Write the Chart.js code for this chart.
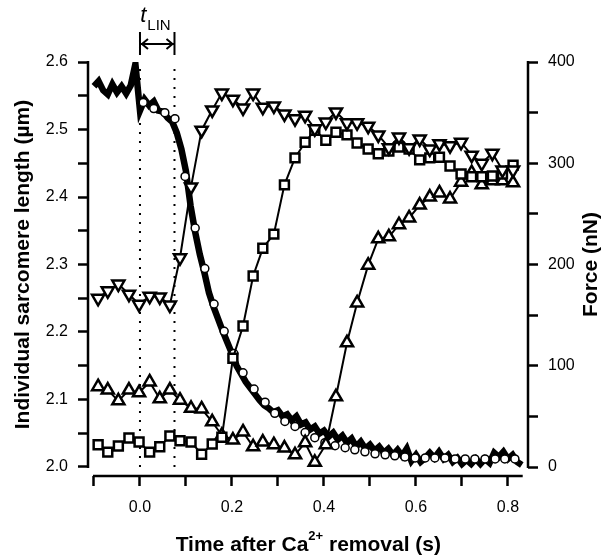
<!DOCTYPE html>
<html>
<head>
<meta charset="utf-8">
<script src="https://cdn.jsdelivr.net/npm/chart.js@4.4.1/dist/chart.umd.min.js"></script>
<style>
    html, body { margin: 0; padding: 0; background: #fff; }
    canvas { display: block; }
</style>
</head>
<body>
<canvas id="chart1" width="605" height="555"></canvas>
<script>
// Frame times (s) shared by the three sarcomeres
const frameTime = [-0.091, -0.070, -0.047, -0.024, -0.002, 0.021, 0.043, 0.065, 0.087, 0.111,
    0.134, 0.157, 0.178, 0.202, 0.224, 0.246, 0.267, 0.291, 0.314, 0.337,
    0.359, 0.380, 0.404, 0.426, 0.450, 0.472, 0.496, 0.518, 0.541, 0.563,
    0.585, 0.608, 0.630, 0.651, 0.674, 0.698, 0.721, 0.743, 0.766, 0.788, 0.811];

// Sarcomere length (µm)
const sarcoDown = [2.250, 2.261, 2.271, 2.256, 2.241, 2.253, 2.252, 2.240, 2.310, 2.415,
    2.499, 2.529, 2.554, 2.545, 2.532, 2.554, 2.533, 2.535, 2.523, 2.516,
    2.521, 2.501, 2.511, 2.526, 2.510, 2.510, 2.505, 2.492, 2.473, 2.489,
    2.473, 2.486, 2.471, 2.479, 2.476, 2.481, 2.462, 2.450, 2.465, 2.440, 2.440];
const sarcoSquare = [2.033, 2.022, 2.031, 2.043, 2.037, 2.022, 2.030, 2.046, 2.039, 2.037,
    2.019, 2.034, 2.044, 2.161, 2.209, 2.283, 2.324, 2.345, 2.418, 2.458,
    2.481, 2.499, 2.484, 2.496, 2.492, 2.480, 2.471, 2.464, 2.468, 2.474,
    2.471, 2.455, 2.458, 2.459, 2.446, 2.434, 2.430, 2.430, 2.431, 2.434, 2.447];
const sarcoUp = [2.119, 2.114, 2.098, 2.114, 2.110, 2.126, 2.101, 2.114, 2.099, 2.087,
    2.086, 2.067, 2.047, 2.040, 2.052, 2.030, 2.037, 2.033, 2.028, 2.018,
    2.036, 2.007, 2.033, 2.104, 2.184, 2.243, 2.299, 2.338, 2.341, 2.359,
    2.369, 2.388, 2.400, 2.406, 2.397, 2.422, 2.436, 2.418, 2.424, 2.424, 2.421];

// Open circles (force, nN)
const circleTime = [0.007, 0.030, 0.054, 0.076, 0.098, 0.120, 0.141, 0.161, 0.183, 0.204,
    0.224, 0.248, 0.272, 0.293, 0.315, 0.337, 0.359, 0.380, 0.402, 0.424,
    0.446, 0.467, 0.489, 0.511, 0.533, 0.554, 0.576, 0.598, 0.620, 0.641,
    0.663, 0.685, 0.707, 0.728, 0.750, 0.772, 0.793, 0.815];
const circleForce = [360, 354, 350, 344, 287, 236, 196, 161, 134, 112,
    93, 77, 64, 53, 45, 40, 34, 29, 24, 21,
    19, 17, 15, 13, 12, 11, 10, 9, 9, 9,
    9, 8, 8, 8, 8, 8, 8, 8];

// Force trace (nN)
const forceTime = [-0.10, -0.09, -0.08, -0.07, -0.06, -0.05, -0.04, -0.03, -0.02, -0.01,
    0.00, 0.01, 0.02, 0.03, 0.04, 0.05, 0.06, 0.07, 0.08, 0.09,
    0.10, 0.11, 0.12, 0.13, 0.14, 0.15, 0.16, 0.17, 0.18, 0.19,
    0.20, 0.21, 0.22, 0.23, 0.24, 0.25, 0.26, 0.27, 0.28, 0.29,
    0.30, 0.31, 0.32, 0.33, 0.34, 0.35, 0.36, 0.37, 0.38, 0.39,
    0.40, 0.41, 0.42, 0.43, 0.44, 0.45, 0.46, 0.47, 0.48, 0.49,
    0.50, 0.51, 0.52, 0.53, 0.54, 0.55, 0.56, 0.57, 0.58, 0.59,
    0.60, 0.61, 0.62, 0.63, 0.64, 0.65, 0.66, 0.67, 0.68, 0.69,
    0.70, 0.71, 0.72, 0.73, 0.74, 0.75, 0.76, 0.77, 0.78, 0.79,
    0.80, 0.81, 0.82, 0.83];
const forceTrace = [376, 381, 372, 368, 378, 370, 376, 369, 377, 398,
    352, 363, 357, 361, 352, 351, 345, 341, 330, 314,
    292, 258, 232, 210, 192, 172, 158, 146, 134, 123,
    112, 100, 92, 84, 78, 72, 66, 61, 58, 54,
    56, 50, 52, 46, 50, 42, 44, 37, 40, 33,
    36, 30, 34, 27, 31, 24, 28, 20, 25, 18,
    22, 16, 20, 14, 18, 12, 17, 11, 18, 6,
    12, 5, 9, 14, 9, 15, 8, 12, 5, 9,
    3, 7, 3, 8, 3, 8, 4, 14, 10, 15,
    8, 12, 5, 2];

// Ticks
const xTickValues = [-0.1, 0, 0.1, 0.2, 0.3, 0.4, 0.5, 0.6, 0.7, 0.8];
const xTickLabels = ["", "0.0", "", "0.2", "", "0.4", "", "0.6", "", "0.8"];
const lenTickValues = [2.0, 2.05, 2.1, 2.15, 2.2, 2.25, 2.3, 2.35, 2.4, 2.45, 2.5, 2.55, 2.6];
const lenTickLabels = ["2.0", "", "2.1", "", "2.2", "", "2.3", "", "2.4", "", "2.5", "", "2.6"];
const forceTickValues = [0, 50, 100, 150, 200, 250, 300, 350, 400];
const forceTickLabels = ["0", "", "100", "", "200", "", "300", "", "400"];

const tLin = 0.075;
const xAxisEnd = 0.832;

const fontFamily = "'Liberation Sans', Arial, Helvetica, sans-serif";

const toPoints = (xs, ys) => xs.map((x, i) => ({ x: x, y: ys[i] }));

// Axis lines, titles and t_LIN bracket
const axisDecor = {
    id: "axisDecor",
    afterDraw: (chart) => {
        const { ctx, chartArea, scales } = chart;
        const xs = scales.x;
        const yl = scales.yL;
        const yTop = yl.getPixelForValue(2.6);
        const yBot = yl.getPixelForValue(2.0);
        const yMid = (yTop + yBot) / 2;

        ctx.save();
        ctx.strokeStyle = "#000";
        ctx.fillStyle = "#000";
        ctx.lineWidth = 2.5;

        ctx.beginPath();
        ctx.moveTo(chartArea.left, yTop - 1);
        ctx.lineTo(chartArea.left, yBot + 1);
        ctx.moveTo(chartArea.right, yTop - 1);
        ctx.lineTo(chartArea.right, yBot + 1);
        ctx.moveTo(xs.getPixelForValue(-0.1) - 1, chartArea.bottom);
        ctx.lineTo(xs.getPixelForValue(xAxisEnd), chartArea.bottom);
        ctx.stroke();

        // t_LIN bracket
        const a = xs.getPixelForValue(0);
        const b = xs.getPixelForValue(tLin);
        ctx.lineWidth = 2;
        ctx.beginPath();
        ctx.moveTo(a, 32);
        ctx.lineTo(a, 55);
        ctx.moveTo(b, 32);
        ctx.lineTo(b, 55);
        ctx.moveTo(a + 1, 44);
        ctx.lineTo(b - 1, 44);
        ctx.moveTo(a + 8, 39);
        ctx.lineTo(a + 2, 44);
        ctx.lineTo(a + 8, 49);
        ctx.moveTo(b - 8, 39);
        ctx.lineTo(b - 2, 44);
        ctx.lineTo(b - 8, 49);
        ctx.stroke();

        ctx.textBaseline = "alphabetic";
        ctx.textAlign = "left";
        ctx.font = "italic 22px " + fontFamily;
        const tw = ctx.measureText("t").width;
        const tx = (a + b) / 2 - 17;
        ctx.fillText("t", tx, 22);
        ctx.font = "15px " + fontFamily;
        ctx.fillText("LIN", tx + tw + 1, 30);

        // x title with superscript
        const p1 = "Time after Ca";
        const p2 = "2+";
        const p3 = " removal (s)";
        ctx.font = "bold 21px " + fontFamily;
        const w1 = ctx.measureText(p1).width;
        const w3 = ctx.measureText(p3).width;
        ctx.font = "bold 13px " + fontFamily;
        const w2 = ctx.measureText(p2).width;
        const xc = (xs.getPixelForValue(-0.1) + xs.getPixelForValue(xAxisEnd)) / 2;
        let x0 = xc - (w1 + w2 + w3) / 2;
        ctx.font = "bold 21px " + fontFamily;
        ctx.fillText(p1, x0, 551);
        ctx.font = "bold 13px " + fontFamily;
        ctx.fillText(p2, x0 + w1, 540);
        ctx.font = "bold 21px " + fontFamily;
        ctx.fillText(p3, x0 + w1 + w2, 551);

        // y titles, both read bottom to top
        ctx.textAlign = "center";
        ctx.textBaseline = "middle";
        ctx.save();
        ctx.translate(23, yMid);
        ctx.rotate(-Math.PI / 2);
        ctx.fillText("Individual sarcomere length (µm)", 0, 0);
        ctx.restore();

        ctx.save();
        ctx.translate(591, yMid);
        ctx.rotate(-Math.PI / 2);
        ctx.fillText("Force (nN)", 0, 0);
        ctx.restore();

        ctx.restore();
    }
};

const markerStyle = {
    showLine: true,
    borderColor: "#000",
    borderWidth: 2,
    pointBackgroundColor: "#fff",
    pointBorderColor: "#000",
    pointBorderWidth: 2.5,
    yAxisID: "yL"
};

const chart1 = document.querySelector("#chart1");
if (chart1) {
    new Chart(chart1, {
        type: "scatter",
        data: {
            datasets: [
                {
                    ...markerStyle,
                    label: "Sarcomere 1",
                    data: toPoints(frameTime, sarcoDown),
                    pointStyle: "triangle",
                    rotation: 180,
                    pointRadius: 7,
                    order: 1
                },
                {
                    ...markerStyle,
                    label: "Sarcomere 2",
                    data: toPoints(frameTime, sarcoSquare),
                    pointStyle: "rect",
                    pointRadius: 6.3,
                    order: 2
                },
                {
                    ...markerStyle,
                    label: "Sarcomere 3",
                    data: toPoints(frameTime, sarcoUp),
                    pointStyle: "triangle",
                    pointRadius: 7,
                    order: 3
                },
                {
                    label: "Force fit",
                    data: toPoints(circleTime, circleForce),
                    showLine: false,
                    pointStyle: "circle",
                    pointRadius: 4,
                    pointBackgroundColor: "#fff",
                    pointBorderColor: "#000",
                    pointBorderWidth: 1.5,
                    yAxisID: "yF",
                    order: 4
                },
                {
                    label: "Force",
                    data: toPoints(forceTime, forceTrace),
                    showLine: true,
                    borderColor: "#000",
                    borderWidth: 6.5,
                    borderJoinStyle: "miter",
                    pointRadius: 0,
                    yAxisID: "yF",
                    order: 5
                },
                {
                    label: "t0",
                    data: [{ x: 0, y: 2.0 }, { x: 0, y: 2.6 }],
                    showLine: true,
                    borderColor: "#000",
                    borderWidth: 2,
                    borderDash: [2, 7],
                    pointRadius: 0,
                    yAxisID: "yL",
                    order: 6
                },
                {
                    label: "tLIN",
                    data: [{ x: tLin, y: 2.0 }, { x: tLin, y: 2.6 }],
                    showLine: true,
                    borderColor: "#000",
                    borderWidth: 2,
                    borderDash: [2, 7],
                    pointRadius: 0,
                    yAxisID: "yL",
                    order: 6
                }
            ]
        },
        options: {
            responsive: false,
            animation: false,
            events: [],
            layout: {
                padding: { top: 62, left: 0, right: 0, bottom: 0 }
            },
            plugins: {
                legend: { display: false },
                tooltip: { enabled: false }
            },
            scales: {
                x: {
                    type: "linear",
                    min: -0.113,
                    max: 0.8435,
                    afterBuildTicks: (axis) => {
                        axis.ticks = xTickValues.map(v => ({ value: v }));
                    },
                    afterFit: (axis) => {
                        axis.height = 79;
                    },
                    border: { display: false },
                    grid: {
                        drawOnChartArea: false,
                        drawTicks: true,
                        tickLength: 10,
                        tickWidth: 2.5,
                        tickColor: "#000"
                    },
                    ticks: {
                        autoSkip: false,
                        maxRotation: 0,
                        padding: 12,
                        color: "#000",
                        font: { family: fontFamily, size: 16 },
                        callback: (value, index) => xTickLabels[index]
                    }
                },
                yL: {
                    type: "linear",
                    position: "left",
                    min: 2.0 - 9 / 675,
                    max: 2.6,
                    afterBuildTicks: (axis) => {
                        axis.ticks = lenTickValues.map(v => ({ value: v }));
                    },
                    afterFit: (axis) => {
                        axis.width = 88;
                    },
                    border: { display: false },
                    grid: {
                        drawOnChartArea: false,
                        drawTicks: true,
                        tickLength: 10,
                        tickWidth: 2.5,
                        tickColor: "#000"
                    },
                    ticks: {
                        autoSkip: false,
                        padding: 10,
                        color: "#000",
                        font: { family: fontFamily, size: 16 },
                        callback: (value, index) => lenTickLabels[index]
                    }
                },
                yF: {
                    type: "linear",
                    position: "right",
                    min: -9 * 400 / 405,
                    max: 400,
                    afterBuildTicks: (axis) => {
                        axis.ticks = forceTickValues.map(v => ({ value: v }));
                    },
                    afterFit: (axis) => {
                        axis.width = 77;
                    },
                    border: { display: false },
                    grid: {
                        drawOnChartArea: false,
                        drawTicks: true,
                        tickLength: 10,
                        tickWidth: 2.5,
                        tickColor: "#000"
                    },
                    ticks: {
                        autoSkip: false,
                        padding: 10,
                        color: "#000",
                        font: { family: fontFamily, size: 16 },
                        callback: (value, index) => forceTickLabels[index]
                    }
                }
            }
        },
        plugins: [axisDecor]
    });
}
</script>
</body>
</html>
